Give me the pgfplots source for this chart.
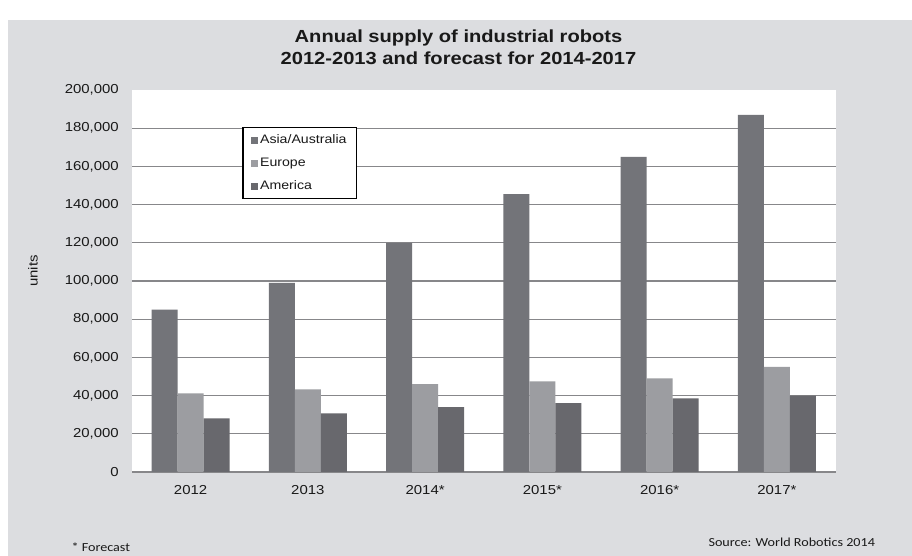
\documentclass[border=0pt]{standalone}
\usepackage{fontspec}
\setmainfont{Liberation Sans}[FakeStretch=1.15]
\newfontfamily\calfont{Carlito}[FakeStretch=1.15]
\usepackage{pgfplots}
\pgfplotsset{compat=1.18}

\definecolor{bgc}{RGB}{220,221,224}
\definecolor{asia}{RGB}{115,116,121}
\definecolor{europe}{RGB}{156,157,161}
\definecolor{america}{RGB}{104,104,109}
\definecolor{gridc}{RGB}{135,135,138}
\definecolor{txt}{RGB}{25,25,25}

\begin{document}
\begin{tikzpicture}
\useasboundingbox (0,0) rectangle (912bp,556bp);
\fill[white] (0,0) rectangle (912bp,556bp);
\fill[bgc] (7.5bp,0) rectangle (912bp,536bp);

\node[anchor=base,text=txt,font=\fontsize{17.5bp}{21bp}\selectfont\bfseries] at (458.5bp,513.3bp) {Annual supply of industrial robots};
\node[anchor=base,text=txt,font=\fontsize{17.5bp}{21bp}\selectfont\bfseries] at (458.5bp,491bp) {2012-2013 and forecast for 2014-2017};

\begin{axis}[
  at={(132bp,84bp)}, anchor=south west,
  scale only axis,
  width=703.5bp, height=382bp,
  ybar=0pt, bar width=26bp,
  xmin=-0.5, xmax=5.5,
  ymin=0, ymax=200000,
  xtick=data,
  xticklabels={2012,2013,2014*,2015*,2016*,2017*},
  ytick={0,20000,40000,60000,80000,100000,120000,140000,160000,180000},
  yticklabels={0,20{,}000,40{,}000,60{,}000,80{,}000,100{,}000,120{,}000,140{,}000,160{,}000,180{,}000},
  extra y ticks={200000},
  extra y tick labels={200{,}000},
  extra y tick style={grid=none},
  scaled y ticks=false,
  tick style={draw=none},
  major tick length=0pt,
  ticklabel style={font=\fontsize{13bp}{15bp}\selectfont, text=txt, inner sep=0pt},
  yticklabel style={anchor=east, xshift=-13bp},
  xticklabel style={anchor=north, yshift=-13bp},
  axis x line*=bottom, axis y line*=left,
  x axis line style={draw=gridc, line width=1.5bp, -},
  y axis line style={draw=none},
  ymajorgrids,
  grid style={draw=gridc, line width=1.2bp},
  axis background/.style={fill=white},
  ylabel={units},
  ylabel style={font=\fontsize{13bp}{15bp}\selectfont, text=txt,
    at={(axis description cs:-0.1407,0.526)}, anchor=center},
  legend style={at={(0.157,0.903)}, anchor=north west, draw=black, line width=1.3bp, fill=white,
    font=\fontsize{12.3bp}{14bp}\selectfont, text=txt,
    inner xsep=8bp, inner ysep=1bp, row sep=0bp,
    nodes={inner xsep=2bp, inner ysep=5.5bp, text height=9bp, text depth=3bp}},
  legend cell align=left,
  legend image code/.code={\fill[#1,draw=none] (0bp,-3.5bp) rectangle (7bp,3.5bp);},
]
\addplot[fill=asia, draw=none] coordinates {(0,85000) (1,99000) (2,120000) (3,145500) (4,165000) (5,187000)};
\addlegendentry{Asia/Australia}
\addplot[fill=europe, draw=none] coordinates {(0,41200) (1,43300) (2,46000) (3,47500) (4,49000) (5,55000)};
\addlegendentry{Europe}
\addplot[fill=america, draw=none] coordinates {(0,28100) (1,30700) (2,34000) (3,36000) (4,38600) (5,40000)};
\addlegendentry{America}
\end{axis}

\node[anchor=base west,text=txt,font=\calfont\fontsize{12.3bp}{14bp}\selectfont] at (68bp,4.3bp) {* Forecast};
\node[anchor=base west,text=txt,font=\calfont\fontsize{12.3bp}{14bp}\selectfont] at (705bp,9.3bp) {Source: World Robotics 2014};
\end{tikzpicture}
\end{document}
